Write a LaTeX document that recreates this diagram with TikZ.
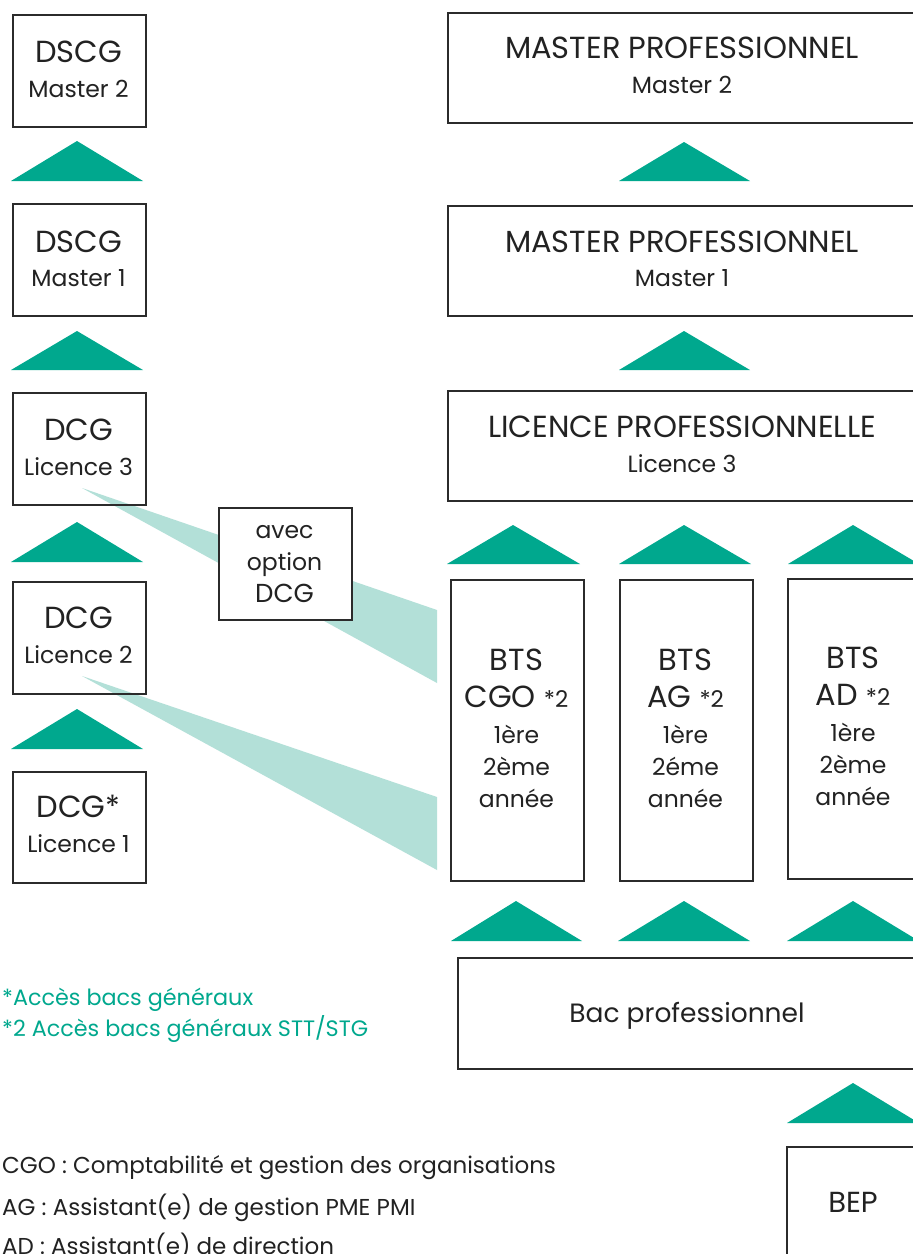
\documentclass[tikz,border=0pt]{standalone}
\usepackage{fontspec}
\setmainfont{Poppins}
\definecolor{teal1}{HTML}{00A88E}
\definecolor{teal2}{HTML}{B3E0D8}
\definecolor{boxcol}{HTML}{2B2B2B}
\definecolor{txt}{HTML}{222222}
\tikzset{
  box/.style={draw=boxcol, line width=1.8pt, inner sep=0pt, anchor=north west},
  wbox/.style={box, fill=white},
  tri/.style={fill=teal1},
  wedge/.style={fill=teal2},
  big/.style={font=\fontsize{30.5}{32}\selectfont, text=txt, anchor=base, inner sep=0pt},
  mid/.style={font=\fontsize{26.5}{28}\selectfont, text=txt, anchor=base, inner sep=0pt},
  small/.style={font=\fontsize{23.5}{25}\selectfont, text=txt, anchor=base, inner sep=0pt},
  note/.style={font=\fontsize{22.3}{24}\selectfont, text=teal1, anchor=base west, inner sep=0pt},
  legend/.style={font=\fontsize{23}{25}\selectfont, text=txt, anchor=base west, inner sep=0pt}
}
\newcommand{\startwo}{{\fontsize{23}{25}\selectfont *2}}
\begin{document}
\begin{tikzpicture}[x=1pt,y=-1pt]
\useasboundingbox (0,0) rectangle (913,1254);
\clip (0,0) rectangle (913,1254);
\fill[white] (0,0) rectangle (913,1254);

% light wedges
\fill[wedge] (82,488) -- (437,610) -- (437,683) -- cycle;
\fill[wedge] (82,676) -- (437,797) -- (437,870) -- cycle;

% left column
\node[box, minimum width=133pt, minimum height=112pt] (dscg2) at (12,14) {};
\node[big] (dscg2a) at (78.5,62) {DSCG};
\node[small] (dscg2b) at (78.5,97) {Master 2};
\node[box, minimum width=133pt, minimum height=112pt] (dscg1) at (12,203) {};
\node[big] (dscg1a) at (78.5,252) {DSCG};
\node[small] (dscg1b) at (78.5,286) {Master 1};
\node[box, minimum width=133pt, minimum height=112pt] (dcg3) at (12,392) {};
\node[big] (dcg3a) at (78.5,440) {DCG};
\node[small] (dcg3b) at (78.5,475) {Licence 3};
\node[box, minimum width=133pt, minimum height=112pt] (dcg2) at (12,581) {};
\node[big] (dcg2a) at (78.5,628) {DCG};
\node[small] (dcg2b) at (78.5,663) {Licence 2};
\node[box, minimum width=133pt, minimum height=111pt] (dcg1) at (12,771) {};
\node[big] (dcg1a) at (78.5,817) {DCG*};
\node[small] (dcg1b) at (78.5,852) {Licence 1};

\fill[tri] (11,181) -- (77,141) -- (143,181) -- cycle;
\fill[tri] (11,370) -- (77,331) -- (143,370) -- cycle;
\fill[tri] (11,562) -- (77,522) -- (143,562) -- cycle;
\fill[tri] (11,749) -- (77,709) -- (143,749) -- cycle;

% avec option DCG
\node[wbox, minimum width=133pt, minimum height=112pt] (avec) at (218,507) {};
\node[small] (aveca) at (284.5,538) {avec};
\node[small] (avecb) at (284.5,570) {option};
\node[small, font=\fontsize{26}{28}\selectfont] (avecc) at (284.5,602) {DCG};

% right column
\node[box, minimum width=471pt, minimum height=110pt] (mp2) at (447,12) {};
\node[big] (mp2a) at (682,58) {MASTER PROFESSIONNEL};
\node[small] (mp2b) at (682,93) {Master 2};
\fill[tri] (619,181) -- (684,142) -- (750,181) -- cycle;
\node[box, minimum width=471pt, minimum height=110pt] (mp1) at (447,205) {};
\node[big] (mp1a) at (682,252) {MASTER PROFESSIONNEL};
\node[small] (mp1b) at (682,286) {Master 1};
\fill[tri] (619,370) -- (684,331) -- (750,370) -- cycle;
\node[box, minimum width=471pt, minimum height=110pt] (lp) at (447,390) {};
\node[big] (lpa) at (682,437) {LICENCE PROFESSIONNELLE};
\node[small] (lpb) at (682,472) {Licence 3};

\fill[tri] (447,564) -- (513,525) -- (580,564) -- cycle;
\fill[tri] (619,564) -- (684,525) -- (751,564) -- cycle;
\fill[tri] (788,564) -- (853,525) -- (919,564) -- cycle;

% BTS boxes
\node[box, minimum width=133pt, minimum height=301pt] (cgo) at (450,579) {};
\node[big] (cgoa) at (516.5,670) {BTS};
\node[big] (cgob) at (516.5,707) {CGO~\startwo};
\node[small] (cgoc) at (516.5,743) {1ère};
\node[small] (cgod) at (516.5,775) {2ème};
\node[small] (cgoe) at (516.5,807) {année};

\node[box, minimum width=133pt, minimum height=301pt] (ag) at (619,579) {};
\node[big] (aga) at (685.5,670) {BTS};
\node[big] (agb) at (685.5,707) {AG~\startwo};
\node[small] (agc) at (685.5,743) {1ère};
\node[small] (agd) at (685.5,775) {2éme};
\node[small] (age) at (685.5,807) {année};

\node[box, minimum width=133pt, minimum height=300pt] (ad) at (787,578) {};
\node[big] (ada) at (853,668) {BTS};
\node[big] (adb) at (853,705) {AD~\startwo};
\node[small] (adc) at (853,741) {1ère};
\node[small] (add) at (853,773) {2ème};
\node[small] (ade) at (853,805) {année};

\fill[tri] (451,941) -- (516,901) -- (582,941) -- cycle;
\fill[tri] (618,941) -- (684,901) -- (750,941) -- cycle;
\fill[tri] (787,941) -- (853,901) -- (919,941) -- cycle;

\node[box, minimum width=461pt, minimum height=111pt] (bac) at (457,957) {};
\node[mid] (baca) at (687,1022) {Bac professionnel};
\fill[tri] (787,1123) -- (853,1083) -- (919,1123) -- cycle;
\node[box, minimum width=134pt, minimum height=130pt] (bep) at (786,1146) {};
\node[big, font=\fontsize{29}{31}\selectfont] (bepa) at (853,1212) {BEP};

% notes
\node[note] (n1) at (2,1005) {*Accès bacs généraux};
\node[note] (n2) at (2,1036) {*2 Accès bacs généraux STT/STG};
\node[legend] (l1) at (2,1173) {CGO : Comptabilité et gestion des organisations};
\node[legend] (l2) at (2,1215) {AG : Assistant(e) de gestion PME PMI};
\node[legend] (l3) at (2,1254) {AD : Assistant(e) de direction};
\end{tikzpicture}
\end{document}
